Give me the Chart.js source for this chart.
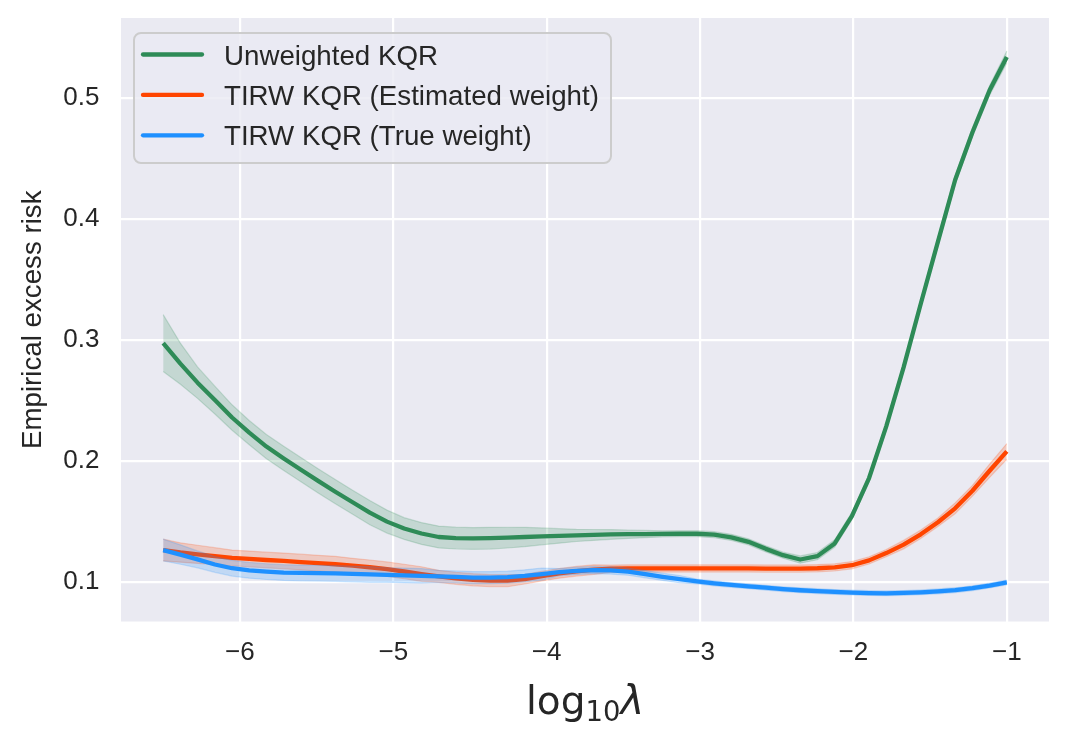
<!DOCTYPE html>
<html>
<head>
<meta charset="utf-8">
<title>Empirical excess risk vs log10 lambda</title>
<script src="https://cdn.jsdelivr.net/npm/chart.js@4.4.0/dist/chart.umd.min.js"></script>
<style>
  html, body { margin: 0; padding: 0; background: #ffffff; }
  #wrap { width: 1070px; height: 744px; }
</style>
</head>
<body>
<div id="wrap"><canvas id="chart"></canvas></div>
<script>
// grid of log10(lambda) values (50 points from -6.5 to -1)
const logLambda = [
  -6.500, -6.388, -6.276, -6.163, -6.051, -5.939, -5.827, -5.714, -5.602, -5.490,
  -5.378, -5.265, -5.153, -5.041, -4.929, -4.816, -4.704, -4.592, -4.480, -4.367,
  -4.255, -4.143, -4.031, -3.918, -3.806, -3.694, -3.582, -3.469, -3.357, -3.245,
  -3.133, -3.020, -2.908, -2.796, -2.684, -2.571, -2.459, -2.347, -2.235, -2.122,
  -2.010, -1.898, -1.786, -1.673, -1.561, -1.449, -1.337, -1.224, -1.112, -1.000
];

// mean excess risk per method
const unweighted = [
  0.2975, 0.2805, 0.2648, 0.2504, 0.2360, 0.2235, 0.2120, 0.2022, 0.1929, 0.1837,
  0.1747, 0.1660, 0.1574, 0.1500, 0.1443, 0.1402, 0.1373, 0.1364, 0.1361, 0.1363,
  0.1367, 0.1373, 0.1378, 0.1382, 0.1386, 0.1390, 0.1394, 0.1396, 0.1397, 0.1399,
  0.1400, 0.1400, 0.1392, 0.1370, 0.1333, 0.1275, 0.1223, 0.1187, 0.1215, 0.1320,
  0.1546, 0.1860, 0.2287, 0.2774, 0.3300, 0.3813, 0.4322, 0.4716, 0.5063, 0.5338
];
const estimatedWeight = [
  0.1265, 0.1245, 0.1230, 0.1215, 0.1200, 0.1192, 0.1183, 0.1175, 0.1166, 0.1157,
  0.1148, 0.1137, 0.1123, 0.1107, 0.1088, 0.1067, 0.1048, 0.1032, 0.1020, 0.1012,
  0.1012, 0.1025, 0.1050, 0.1073, 0.1090, 0.1103, 0.1111, 0.1113, 0.1113, 0.1113,
  0.1113, 0.1113, 0.1113, 0.1113, 0.1113, 0.1112, 0.1112, 0.1112, 0.1115, 0.1122,
  0.1140, 0.1180, 0.1240, 0.1310, 0.1395, 0.1495, 0.1610, 0.1755, 0.1920, 0.2080
];
const trueWeight = [
  0.1265, 0.1228, 0.1188, 0.1146, 0.1115, 0.1098, 0.1087, 0.1079, 0.1076, 0.1074,
  0.1072, 0.1068, 0.1064, 0.1060, 0.1056, 0.1052, 0.1047, 0.1043, 0.1037, 0.1037,
  0.1041, 0.1052, 0.1067, 0.1082, 0.1094, 0.1100, 0.1097, 0.1087, 0.1066, 0.1044,
  0.1025, 0.1006, 0.0990, 0.0977, 0.0966, 0.0954, 0.0942, 0.0933, 0.0926, 0.0919,
  0.0914, 0.0910, 0.0908, 0.0911, 0.0916, 0.0924, 0.0934, 0.0950, 0.0972, 0.0998
];

// half widths of the shaded bands
const unweightedCi = [
  0.0235, 0.017, 0.013, 0.0115, 0.0105, 0.010, 0.010, 0.010, 0.010, 0.010,
  0.010, 0.010, 0.010, 0.0095, 0.009, 0.009, 0.009, 0.009, 0.009, 0.009,
  0.0085, 0.008, 0.007, 0.006, 0.005, 0.0045, 0.004, 0.0035, 0.003, 0.0025,
  0.0025, 0.0025, 0.0025, 0.0025, 0.0025, 0.0025, 0.0025, 0.003, 0.003, 0.003,
  0.003, 0.003, 0.003, 0.003, 0.003, 0.0035, 0.0035, 0.0035, 0.004, 0.005
];
const estimatedWeightCi = [
  0.009, 0.008, 0.0075, 0.007, 0.0065, 0.0065, 0.0065, 0.0065, 0.0065, 0.0065,
  0.0065, 0.006, 0.006, 0.006, 0.006, 0.006, 0.005, 0.005, 0.005, 0.005,
  0.005, 0.004, 0.004, 0.004, 0.004, 0.004, 0.003, 0.003, 0.003, 0.003,
  0.003, 0.003, 0.003, 0.003, 0.003, 0.003, 0.003, 0.003, 0.003, 0.003,
  0.003, 0.003, 0.003, 0.0035, 0.0035, 0.0035, 0.0045, 0.0045, 0.0055, 0.0065
];
const trueWeightCi = [
  0.009, 0.008, 0.007, 0.0065, 0.0065, 0.0065, 0.0065, 0.0065, 0.0065, 0.0065,
  0.0065, 0.0065, 0.0065, 0.006, 0.006, 0.006, 0.005, 0.005, 0.005, 0.005,
  0.005, 0.005, 0.005, 0.003, 0.003, 0.003, 0.003, 0.003, 0.003, 0.003,
  0.003, 0.002, 0.002, 0.002, 0.002, 0.002, 0.002, 0.002, 0.002, 0.002,
  0.002, 0.002, 0.002, 0.002, 0.002, 0.002, 0.002, 0.002, 0.002, 0.002
];

const seriesNames = ['Unweighted KQR', 'TIRW KQR (Estimated weight)', 'TIRW KQR (True weight)'];
const xTicks = [-6, -5, -4, -3, -2, -1];
const xTickLabels = ['\u22126', '\u22125', '\u22124', '\u22123', '\u22122', '\u22121'];
const yTicks = [0.1, 0.2, 0.3, 0.4, 0.5];
const yTickLabels = ['0.1', '0.2', '0.3', '0.4', '0.5'];
const xLabelParts = ['log', '10', '\u03bb'];
const yLabel = 'Empirical excess risk';

const colors = [[46, 139, 87], [255, 69, 0], [30, 144, 255]];
const means = [unweighted, estimatedWeight, trueWeight];
const cis = [unweightedCi, estimatedWeightCi, trueWeightCi];

const TEXT = '#262626';
const SANS = '"Liberation Sans", Arial, sans-serif';
const LINE_W = 4.3;

function rgba(c, a) {
  return `rgba(${c[0]}, ${c[1]}, ${c[2]}, ${a})`;
}

// each method: upper band edge, lower band edge filled to it, then the mean line
const datasets = [];
means.forEach((mean, k) => {
  const ci = cis[k];
  const c = colors[k];
  const upperIndex = datasets.length;
  const order = 10 - 2 * k;
  datasets.push({
    label: seriesNames[k] + ' upper',
    data: logLambda.map((x, i) => ({ x: x, y: mean[i] + ci[i] })),
    borderColor: rgba(c, 0.2), borderWidth: 1.2,
    pointRadius: 0, fill: false, order: order
  });
  datasets.push({
    label: seriesNames[k] + ' lower',
    data: logLambda.map((x, i) => ({ x: x, y: mean[i] - ci[i] })),
    borderColor: rgba(c, 0.2), borderWidth: 1.2,
    backgroundColor: rgba(c, 0.2),
    pointRadius: 0, fill: upperIndex, order: order
  });
  datasets.push({
    label: seriesNames[k],
    data: logLambda.map((x, i) => ({ x: x, y: mean[i] })),
    borderColor: rgba(c, 1), borderWidth: LINE_W,
    borderJoinStyle: 'round', borderCapStyle: 'butt',
    pointRadius: 0, fill: false, order: order - 1
  });
});

const axesBackground = {
  id: 'axesBackground',
  beforeDraw(chart) {
    const { ctx, chartArea: a } = chart;
    ctx.save();
    ctx.fillStyle = '#eaeaf2';
    ctx.fillRect(a.left, a.top, a.right - a.left, a.bottom - a.top);
    ctx.restore();
  }
};

const boxLegend = {
  id: 'boxLegend',
  afterDraw(chart) {
    const { ctx, chartArea: a } = chart;
    const bx = a.left + 13, by = a.top + 15, bw = 477, bh = 130;
    ctx.save();
    ctx.beginPath();
    ctx.roundRect(bx, by, bw, bh, 7);
    ctx.fillStyle = 'rgba(234, 234, 242, 0.8)';
    ctx.fill();
    ctx.lineWidth = 2;
    ctx.strokeStyle = '#cccccc';
    ctx.stroke();
    ctx.font = '27.7px ' + SANS;
    ctx.textAlign = 'left';
    ctx.textBaseline = 'alphabetic';
    seriesNames.forEach((name, k) => {
      const cy = by + 21.5 + k * 40.4;
      ctx.beginPath();
      ctx.moveTo(bx + 9, cy);
      ctx.lineTo(bx + 68, cy);
      ctx.lineWidth = LINE_W;
      ctx.lineCap = 'round';
      ctx.strokeStyle = rgba(colors[k], 1);
      ctx.stroke();
      ctx.fillStyle = TEXT;
      ctx.fillText(name, bx + 90, cy + 10);
    });
    ctx.restore();
  }
};

const axisTitles = {
  id: 'axisTitles',
  afterDraw(chart) {
    const { ctx, chartArea: a } = chart;
    ctx.save();
    ctx.fillStyle = TEXT;
    ctx.textAlign = 'left';
    ctx.textBaseline = 'alphabetic';
    const fonts = ['39px "DejaVu Sans"', '27.5px "DejaVu Sans"', 'italic 40px "DejaVu Sans"'];
    const shifts = [0, 7, 0];
    const widths = xLabelParts.map((t, i) => { ctx.font = fonts[i]; return ctx.measureText(t).width; });
    let x = (a.left + a.right) / 2 - widths.reduce((s, w) => s + w, 0) / 2;
    const base = a.bottom + 92;
    xLabelParts.forEach((t, i) => {
      ctx.font = fonts[i];
      ctx.fillText(t, x, base + shifts[i]);
      x += widths[i];
    });
    ctx.translate(41, (a.top + a.bottom) / 2);
    ctx.rotate(-Math.PI / 2);
    ctx.textAlign = 'center';
    ctx.font = '27.7px ' + SANS;
    ctx.fillText(yLabel, 0, 0);
    ctx.restore();
  }
};

new Chart(document.getElementById('chart'), {
  type: 'line',
  data: { datasets: datasets },
  options: {
    responsive: true,
    maintainAspectRatio: false,
    animation: false,
    layout: { padding: { top: 18, right: 21, left: 0, bottom: 0 } },
    plugins: { legend: { display: false }, tooltip: { enabled: false } },
    elements: { line: { tension: 0 } },
    scales: {
      x: {
        type: 'linear',
        min: -6.775, max: -0.725,
        afterFit(s) { s.height = 122.5; s.paddingLeft = 0; s.paddingRight = 0; },
        afterBuildTicks(s) { s.ticks = xTicks.map(v => ({ value: v })); },
        grid: { color: '#ffffff', lineWidth: 2.2, drawTicks: false },
        border: { display: false },
        ticks: {
          autoSkip: false, maxRotation: 0, padding: 16,
          color: TEXT, font: { family: SANS, size: 26 },
          callback: v => { const k = xTicks.indexOf(v); return k >= 0 ? xTickLabels[k] : ''; }
        }
      },
      y: {
        type: 'linear',
        min: 0.0675, max: 0.566,
        afterFit(s) { s.width = 121; s.paddingTop = 0; s.paddingBottom = 0; },
        afterBuildTicks(s) { s.ticks = yTicks.map(v => ({ value: v })); },
        grid: { color: '#ffffff', lineWidth: 2.2, drawTicks: false },
        border: { display: false },
        ticks: {
          autoSkip: false, padding: 21.5,
          color: TEXT, font: { family: SANS, size: 26 },
          callback: v => { const k = yTicks.indexOf(v); return k >= 0 ? yTickLabels[k] : ''; }
        }
      }
    }
  },
  plugins: [axesBackground, boxLegend, axisTitles]
});
</script>
</body>
</html>
